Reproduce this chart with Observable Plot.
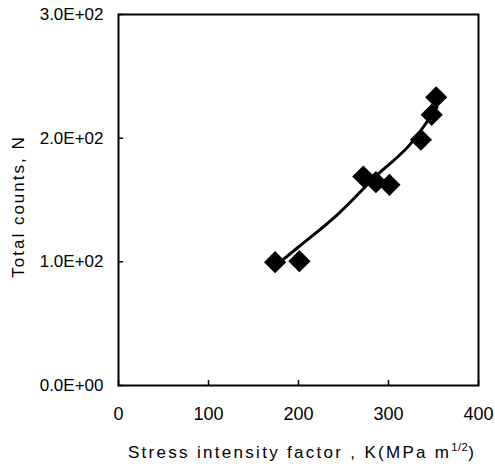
<!DOCTYPE html>
<html>
<head>
<meta charset="utf-8">
<script src="https://cdn.jsdelivr.net/npm/d3@7"></script>
<script src="https://cdn.jsdelivr.net/npm/@observablehq/plot@0.6"></script>
<style>
  html, body { margin: 0; padding: 0; background: #fff; }
  svg { display: block; }
</style>
</head>
<body>
<div id="chart"></div>
<script>
// Measured points: stress intensity factor K and total counts N
const kValues = [174, 201, 272, 286, 301, 336, 348, 353];
const nValues = [99.7, 100.5, 169, 164.4, 162.3, 198.7, 218.9, 233.1];
// Fitted trend line
const fitK = [178, 200, 243, 287, 324, 354];
const fitN = [99, 112, 138, 170, 195, 225];
// Axis ticks and labels
const xTicks = [0, 100, 200, 300, 400];
const yTicks = [0, 100, 200, 300];
const yTickLabels = ["0.0E+00", "1.0E+02", "2.0E+02", "3.0E+02"];
const xTitle = "Stress intensity factor , K(MPa m";
const xTitleSup = "1/2";
const yTitle = "Total counts, N";

const points = kValues.map((k, i) => ({k, n: nValues[i]}));
const fit = fitK.map((k, i) => ({k, n: fitN[i]}));

const W = 495, H = 467;
const font = "'Liberation Sans', Arial, sans-serif";

const chart = Plot.plot({
  width: W,
  height: H,
  marginLeft: 118,
  marginRight: 17,
  marginTop: 14,
  marginBottom: 82,
  style: {fontFamily: font, background: "#fff", color: "#000"},
  x: {domain: [0, 400], ticks: xTicks, label: null},
  y: {domain: [0, 300], ticks: yTicks, label: null},
  marks: [
    Plot.axisX({ticks: xTicks, tickSize: -5, tickPadding: 27, fontSize: 18, strokeWidth: 1.5, label: null}),
    Plot.axisY({ticks: yTicks, tickSize: -5, tickPadding: 20, fontSize: 17, strokeWidth: 1.5, label: null,
      tickFormat: d => yTickLabels[yTicks.indexOf(d)]}),
    Plot.line(fit, {x: "k", y: "n", stroke: "#000", strokeWidth: 3, curve: "monotone-x"}),
    Plot.dot(points, {x: "k", y: "n", symbol: "diamond2", r: 10, fill: "#000", stroke: "none"}),
    Plot.frame({stroke: "#000", strokeWidth: 2})
  ]
});

document.getElementById("chart").appendChild(chart);

// Axis titles (with superscript) added as real SVG text
const svg = d3.select(chart);
const xt = svg.append("text")
  .attr("x", 302)
  .attr("y", 458)
  .attr("text-anchor", "middle")
  .attr("font-family", font)
  .attr("font-size", 17)
  .attr("letter-spacing", "2.3px")
  .attr("fill", "#000");
xt.append("tspan").text(xTitle);
xt.append("tspan").attr("font-size", 11).attr("dy", -7).attr("letter-spacing", "0.5px").text(xTitleSup);
xt.append("tspan").attr("dy", 7).text(")");

svg.append("text")
  .attr("transform", "translate(24,206.5) rotate(-90)")
  .attr("text-anchor", "middle")
  .attr("font-family", font)
  .attr("font-size", 17)
  .attr("letter-spacing", "2px")
  .attr("fill", "#000")
  .text(yTitle);
</script>
</body>
</html>
